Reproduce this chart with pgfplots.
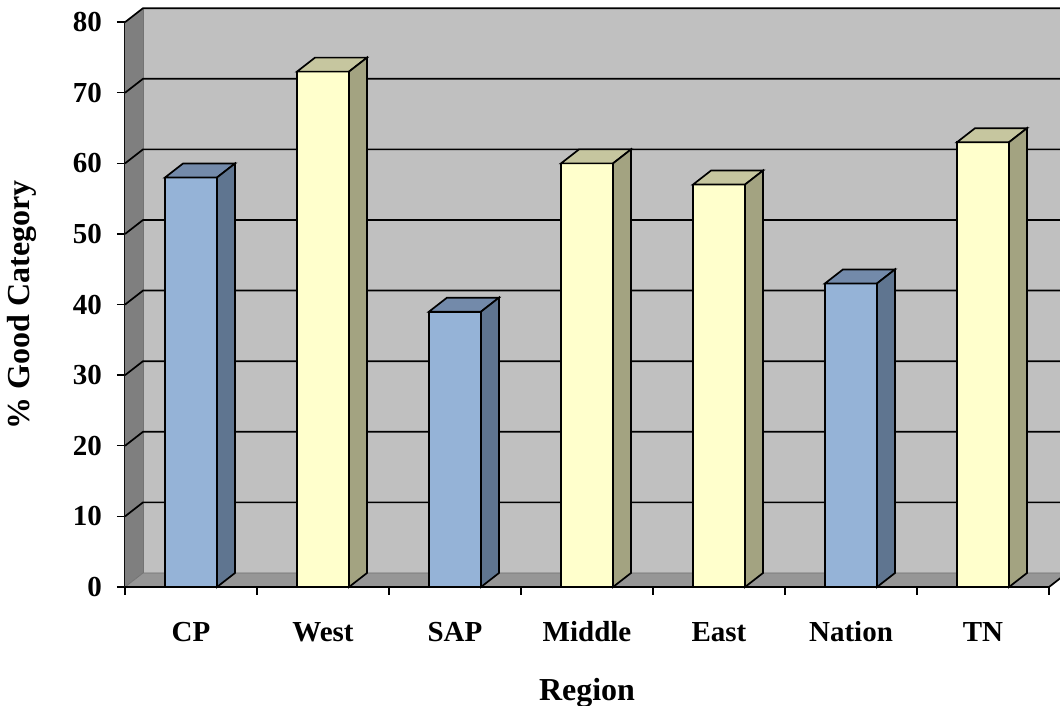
\documentclass[border=0pt]{standalone}
\usepackage{fontspec}
\setmainfont{Liberation Serif}
\usepackage{pgfplots}
\pgfplotsset{compat=1.18}

% wall and bar colours
\definecolor{wallback}{HTML}{C0C0C0}
\definecolor{wallside}{HTML}{7F7F7F}
\definecolor{wallfloor}{HTML}{969696}
\definecolor{bluefront}{HTML}{95B3D7}
\definecolor{bluetop}{HTML}{738AAA}
\definecolor{blueside}{HTML}{5F7590}
\definecolor{yelfront}{HTML}{FFFFCC}
\definecolor{yeltop}{HTML}{C6C69F}
\definecolor{yelside}{HTML}{A3A381}

% depth of the 3-D box: 9pt right, 7pt up; bar half width 13pt; 3.53pt per unit
\newcommand\declarebarmark[3]{%
  \pgfdeclareplotmark{#1}{%
    \pgfpathmoveto{\pgfpoint{-13pt}{0pt}}%
    \pgfpathlineto{\pgfpoint{-4pt}{7pt}}%
    \pgfpathlineto{\pgfpoint{22pt}{7pt}}%
    \pgfpathlineto{\pgfpoint{13pt}{0pt}}%
    \pgfpathclose
    \pgfsetfillcolor{#2}%
    \pgfusepath{fill,stroke}%
    \pgfpathmoveto{\pgfpoint{13pt}{0pt}}%
    \pgfpathlineto{\pgfpoint{22pt}{7pt}}%
    \pgfpathlineto{\pgfpoint{22pt}{7pt-\barh*3.53pt}}%
    \pgfpathlineto{\pgfpoint{13pt}{-\barh*3.53pt}}%
    \pgfpathclose
    \pgfsetfillcolor{#3}%
    \pgfusepath{fill,stroke}%
  }%
}
\declarebarmark{barblue}{bluetop}{blueside}
\declarebarmark{baryellow}{yeltop}{yelside}

\pgfplotstableread{
x    v
0.5  58
2.5  39
5.5  43
}\bluebars
\pgfplotstableread{
x    v
1.5  73
3.5  60
4.5  57
6.5  63
}\yellowbars

\def\dx{0.13636}
\def\dy{1.983}

\begin{document}
\begin{tikzpicture}
\useasboundingbox (-62.5pt,-59.5pt) rectangle (467.5pt,293.5pt);
\begin{axis}[
  anchor=origin, at={(0pt,0pt)},
  x=66pt, y=3.53pt,
  xmin=0, xmax=7, ymin=0, ymax=80,
  clip=false,
  axis x line*=bottom, axis y line*=left,
  axis line style={line width=0.85pt, -},
  xtick={0.5,1.5,...,6.5},
  xticklabels={CP,West,SAP,Middle,East,Nation,TN},
  minor xtick={0,1,...,7},
  major x tick style={draw=none},
  ytick={0,10,...,80},
  tick align=outside,
  major tick length=4pt, minor tick length=4pt,
  every tick/.style={black, line width=0.7pt},
  /pgf/number format/assume math mode=true,
  ticklabel style={font=\bfseries\fontsize{14.5}{17}\selectfont},
  xticklabel style={text height=10pt, text depth=3pt, yshift=-9.5pt},
  yticklabel style={xshift=-4pt},
  xlabel style={font=\bfseries\fontsize{16}{19}\selectfont,
    at={(axis description cs:0.5,0)}, anchor=center, yshift=-53pt},
  ylabel style={font=\bfseries\fontsize{16}{19}\selectfont,
    at={(axis description cs:0,0.5)}, anchor=center, yshift=51.5pt},
  xlabel={Region},
  ylabel={\% Good Category},
]
% walls and floor
\fill[wallback] (axis cs:\dx,\dy) rectangle (axis cs:7+\dx,80+\dy);
\fill[wallside] (axis cs:0,0) -- (axis cs:\dx,\dy) -- (axis cs:\dx,80+\dy) -- (axis cs:0,80) -- cycle;
\fill[wallfloor] (axis cs:0,0) -- (axis cs:7,0) -- (axis cs:7+\dx,\dy) -- (axis cs:\dx,\dy) -- cycle;
\draw[black!55, line width=0.4pt] (axis cs:0,0) -- (axis cs:\dx,\dy) -- (axis cs:7+\dx,\dy);
\draw[black!55, line width=0.4pt] (axis cs:\dx,\dy) -- (axis cs:\dx,80+\dy);
% gridlines on side and back wall
\pgfplotsinvokeforeach{10,20,...,80}{
  \draw[black, line width=0.85pt] (axis cs:0,#1) -- (axis cs:\dx,#1+\dy) -- (axis cs:7+\dx,#1+\dy);
}
% bars
\addplot[ybar, bar width=26pt, bar shift=0pt, fill=bluefront, draw=black, line width=0.85pt]
  table[x=x, y=v] {\bluebars};
\addplot[only marks, mark=barblue, draw=black, line width=0.85pt,
  visualization depends on={rawy \as \barh}]
  table[x=x, y=v] {\bluebars};
\addplot[ybar, bar width=26pt, bar shift=0pt, fill=yelfront, draw=black, line width=0.85pt]
  table[x=x, y=v] {\yellowbars};
\addplot[only marks, mark=baryellow, draw=black, line width=0.85pt,
  visualization depends on={rawy \as \barh}]
  table[x=x, y=v] {\yellowbars};
% front floor edge on top of the bar bases
\draw[black, line width=0.85pt] (axis cs:0,0) -- (axis cs:7,0) -- (axis cs:7+\dx,\dy);
\end{axis}
\end{tikzpicture}
\end{document}
